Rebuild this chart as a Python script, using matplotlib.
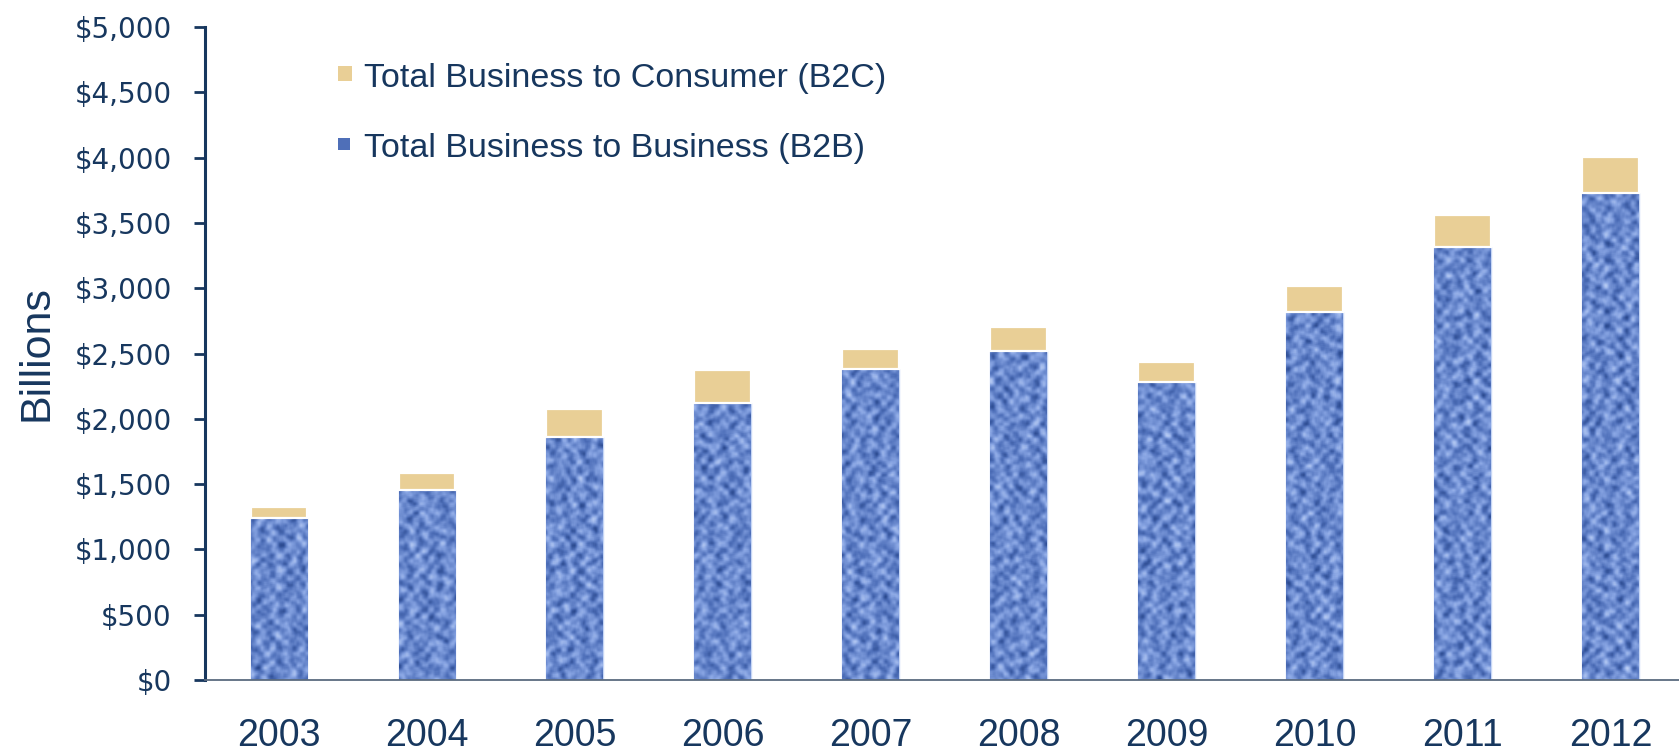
import numpy as np
import matplotlib.pyplot as plt
from matplotlib.colors import LinearSegmentedColormap
from matplotlib.patches import Rectangle
from matplotlib.ticker import FuncFormatter

plt.rcParams['font.family'] = ['Liberation Sans', 'DejaVu Sans']

years = ['2003', '2004', '2005', '2006', '2007', '2008', '2009', '2010', '2011', '2012']
b2b = [1240, 1455, 1863, 2123, 2379, 2521, 2284, 2820, 3313, 3732]   # $ billions
b2c = [87, 128, 209, 252, 153, 182, 149, 197, 247, 273]
labels = ['Total Business to Consumer (B2C)', 'Total Business to Business (B2B)']

navy = '#17375e'
tan = '#e9cf96'

fig = plt.figure(figsize=(16.79, 7.52), dpi=100)
ax = fig.add_axes([0.1221, 0.0957, 0.8779, 0.8684])

x = np.arange(len(years))
w = 0.385
bars = ax.bar(x, b2b, width=w, color='#6f8ecf', edgecolor='#c6d6f5', linewidth=1.0, zorder=2)
ax.bar(x, b2c, bottom=b2b, width=w, color=tan, edgecolor='white', linewidth=1.6, zorder=3)

# woven fill for the B2B bars: alternating horizontal / vertical threads
yy, xx = np.mgrid[0:660, 0:1480].astype(float)
ci, cj = yy // 3, xx // 3
horiz = 0.5 + 0.5 * np.sin(xx * 0.45 + (ci ** 2) * 0.37) * np.sin(ci * 1.7 + 0.4)
vert = 0.5 + 0.5 * np.sin(yy * 0.38 + (cj ** 2) * 0.53) * np.cos(cj * 1.3 + 0.2)
weave = np.where((ci + cj) % 2 == 0, horiz, vert)
weave = weave + 0.25 * np.sin(xx * 0.29 + 2 * np.sin(yy * 0.13)) * np.sin(yy * 0.23 + 2 * np.sin(xx * 0.07))
# soften with a small box average
k = 2
pad = np.pad(weave, k, mode='edge')
soft = np.zeros_like(weave)
for dy in range(-k, k + 1):
    for dx in range(-k, k + 1):
        soft += pad[k + dy:k + dy + weave.shape[0], k + dx:k + dx + weave.shape[1]]
weave = soft / (2 * k + 1) ** 2
weave = (weave - weave.min()) / (weave.max() - weave.min())
denim = LinearSegmentedColormap.from_list('denim', ['#1e3c80', '#4f70ba', '#86a3e2', '#c4d6f8'])
ext = (-0.5, 9.46, 0, 5000)
for b in bars:
    im = ax.imshow(weave, extent=ext, aspect='auto', cmap=denim, origin='lower',
                   interpolation='bilinear', zorder=2.5)
    im.set_clip_path(b)

ax.set_xlim(-0.5, 9.46)
ax.set_ylim(0, 5000)
ax.set_yticks(np.arange(0, 5001, 500))
ax.yaxis.set_major_formatter(FuncFormatter(lambda v, p: '${:,.0f}'.format(v)))
ax.set_xticks(x)
ax.set_xticklabels(years)

for s in ['top', 'right']:
    ax.spines[s].set_visible(False)
ax.spines['left'].set_color(navy)
ax.spines['left'].set_linewidth(2.2)
ax.spines['bottom'].set_color('#5b6b7f')
ax.spines['bottom'].set_linewidth(1.3)

ax.tick_params(axis='y', length=8, width=2, color=navy, labelsize=20, labelcolor=navy, pad=16)
ax.tick_params(axis='x', length=0, labelsize=27, labelcolor=navy, pad=27)
for t in ax.get_yticklabels():
    t.set_fontfamily(['DejaVu Sans'])

ax.set_ylabel('Billions', fontsize=31, color=navy)
ax.yaxis.set_label_coords(-0.1007, 0.5)

# legend drawn by hand
fig.patches.append(Rectangle((0.2013, 0.8923), 0.00834, 0.02, facecolor=tan,
                             edgecolor='none', transform=fig.transFigure))
fig.patches.append(Rectangle((0.2013, 0.8005), 0.0072, 0.016, facecolor='#4f6fb8',
                             edgecolor='none', transform=fig.transFigure))
fig.text(0.2168, 0.8843, labels[0], fontsize=24.5, color=navy, va='baseline')
fig.text(0.2168, 0.7918, labels[1], fontsize=24.5, color=navy, va='baseline')

fig.savefig('out.png', dpi=100)
